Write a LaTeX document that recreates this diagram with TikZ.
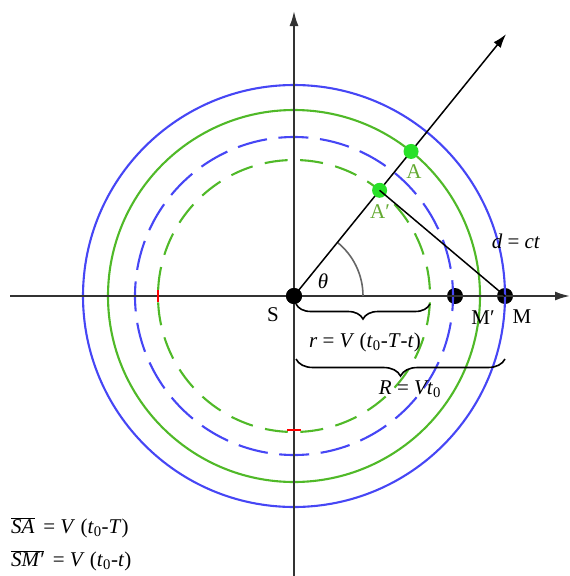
\documentclass[tikz,border=0pt]{standalone}
\usepackage{fontspec}
\setmainfont{Liberation Serif}
\usetikzlibrary{arrows.meta,decorations.pathreplacing,calc}

\definecolor{orbitblue}{RGB}{70,70,245}
\definecolor{orbitgreen}{RGB}{80,185,40}
\definecolor{dotgreen}{RGB}{40,225,40}
\definecolor{labelgreen}{RGB}{100,170,50}

\newcommand{\vi}[1]{\textit{#1}}

\begin{document}
\begin{tikzpicture}[x=1pt, y=-1pt, font=\fontsize{21}{24}\selectfont]
    \tikzstyle{axis}     = [line width=1.9pt, draw=black!80, -{Latex[length=15pt,width=9pt]}]
    \tikzstyle{orbit}    = [line width=2.1pt]
    \tikzstyle{bigdot}   = [circle, fill=black, minimum size=16pt, inner sep=0pt]
    \tikzstyle{greendot} = [circle, fill=dotgreen, minimum size=15pt, inner sep=0pt]
    \tikzstyle{brace}    = [line width=1.6pt, decorate]
    \tikzstyle{lbl}      = [inner sep=1pt]

    \useasboundingbox (0,0) rectangle (570,576);

    % centre and points on the axis
    \node [bigdot] (S) at (294,296) {};
    \node [bigdot] (Mp) at (455,296) {};
    \node [bigdot] (M) at (505,296) {};
    \coordinate (xstart) at (10,296);
    \coordinate (xend) at (570,296);
    \coordinate (ystart) at (294,576);
    \coordinate (yend) at (294,11);
    \coordinate (raytip) at ($(S.center)+(-51:337)$);

    % circles
    \draw [orbit, orbitblue] (S.center) circle[radius=211];
    \draw [orbit, orbitgreen] (S.center) circle[radius=186];
    \draw [orbit, orbitblue, dash pattern=on 30pt off 11.6pt, dash phase=15pt] (S.center) circle[radius=159];
    \draw [orbit, orbitgreen, dash pattern=on 23pt off 12.6pt, dash phase=29.3pt] (S.center) circle[radius=136];

    % axes
    \draw [axis] (xstart) -- (xend);
    \draw [axis] (ystart) -- (yend);
    \draw [line width=2pt, red] (158,290) -- (158,302);
    \draw [line width=2pt, red] (287,430) -- (301,430);

    % angle
    \draw [line width=1.6pt, black!60] ($(S.center)+(69,0)$) arc[start angle=0, end angle=-51, radius=69];
    \node [lbl] (theta) at (323,281) {\vi{θ}};

    % ray and points
    \draw [line width=1.5pt, -{Latex[length=14pt,width=9pt]}] (S.center) -- (raytip);
    \node [greendot] (A) at ($(S.center)+(-51:186)$) {};
    \node [greendot] (Ap) at ($(S.center)+(-51:136)$) {};
    \draw [line width=1.5pt] (Ap.center) -- (M.center);
    \fill (S.center) circle[radius=8];

    % labels
    \node [lbl, text=labelgreen] (Alab) at (414,172) {A};
    \node [lbl, text=labelgreen] (Aplab) at (380,212) {A′};
    \node [lbl] (dlab) at (516,241) {\vi{d} = \vi{ct}};
    \node [lbl] (Slab) at (273,315) {S};
    \node [lbl] (Mplab) at (483,318) {M′};
    \node [lbl] (Mlab) at (522,317) {M};

    % braces
    \coordinate (b1s) at (296,304);
    \coordinate (b1e) at (430,304);
    \coordinate (b2s) at (296,359);
    \coordinate (b2e) at (505,359);
    \draw [brace, decoration={brace, mirror, amplitude=15pt}] (b1s) -- (b1e);
    \draw [brace, decoration={brace, mirror, amplitude=17pt}] (b2s) -- (b2e);
    \node [lbl] (rlab) at (365,342) {\vi{r} = \vi{V} (\vi{t}\textsubscript{0}-\vi{T}-\vi{t})};
    \node [lbl] (Rlab) at (410,389) {\vi{R} = \vi{Vt}\textsubscript{0}};

    % formulas
    \node [lbl, anchor=west] (SAeq) at (10,528) {$\overline{\hbox{\vi{SA}}}$\, = \vi{V} (\vi{t}\textsubscript{0}-\vi{T})};
    \node [lbl, anchor=west] (SMeq) at (10,561) {$\overline{\hbox{\vi{SM′}}}$\,  = \vi{V} (\vi{t}\textsubscript{0}-\vi{t})};
\end{tikzpicture}
\end{document}
